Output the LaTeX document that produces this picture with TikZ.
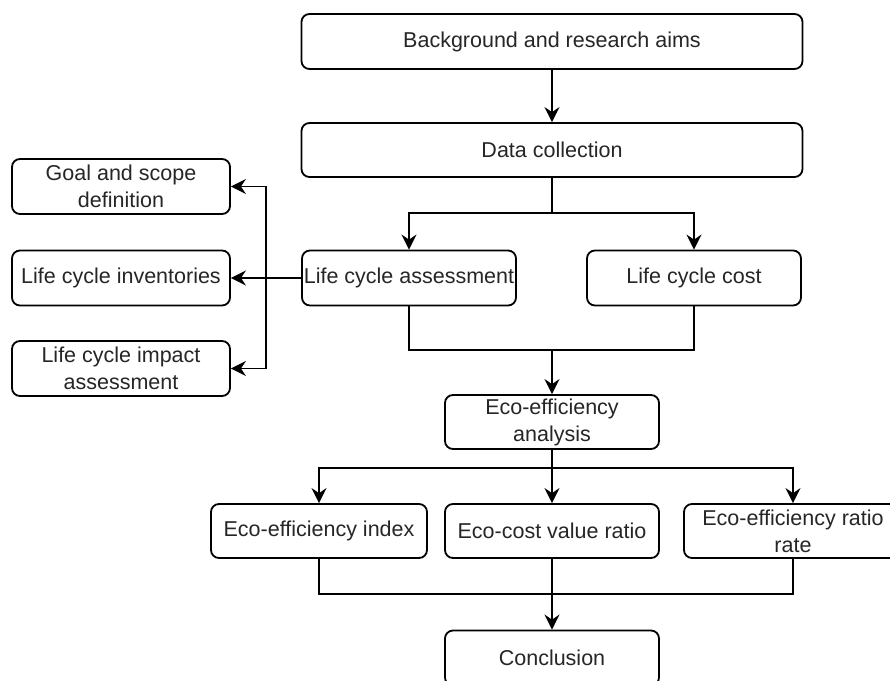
\documentclass[tikz,border=0pt]{standalone}
\usepackage{fontspec}
\setmainfont{Liberation Sans}
\usetikzlibrary{arrows.meta}
\begin{document}
\begin{tikzpicture}[x=1pt,y=-1pt,
  box/.style={draw=black, line width=1.8pt, rounded corners=8pt, fill=white,
    align=center, inner sep=1pt, text=black!85,
    font=\fontsize{21.5}{27}\selectfont},
  conn/.style={draw=black, line width=1.8pt},
  arr/.style={conn, -{Stealth[length=15pt,width=15pt,inset=5pt]}}
]
\useasboundingbox (0,0) rectangle (890,680);
\clip (0,0) rectangle (890,680);
\fill[white] (0,0) rectangle (890,680);

\node[box, minimum width=501pt, minimum height=55pt] (bg) at (552,41.5) {Background and research aims};
\node[box, minimum width=501pt, minimum height=54pt] (dc) at (552,150) {Data collection};
\node[box, minimum width=214pt, minimum height=55pt] (lca) at (409,278) {Life cycle assessment};
\node[box, minimum width=214pt, minimum height=55pt] (lcc) at (694,278) {Life cycle cost};
\node[box, minimum width=218pt, minimum height=55pt] (goal) at (121,186.5) {Goal and scope\\definition};
\node[box, minimum width=218pt, minimum height=55pt] (lci) at (121,278) {Life cycle inventories};
\node[box, minimum width=218pt, minimum height=55pt] (lcia) at (121,368.5) {Life cycle impact\\assessment};
\node[box, minimum width=214pt, minimum height=54pt] (eea) at (552,422) {Eco-efficiency\\analysis};
\node[box, minimum width=216pt, minimum height=54pt] (eei) at (319,531) {Eco-efficiency index};
\node[box, minimum width=214pt, minimum height=54pt] (ecv) at (552,531) {Eco-cost value ratio};
\node[box, minimum width=218pt, minimum height=54pt] (eer) at (793,531) {Eco-efficiency ratio\\rate};
\node[box, minimum width=214pt, minimum height=55pt] (con) at (552,658) {Conclusion};

\coordinate (s1) at (552,213);
\coordinate (m1) at (552,350);
\coordinate (bus) at (266,278);
\coordinate (s2) at (552,468);
\coordinate (m2) at (552,594);

\draw[arr] (bg) -- (dc);
\draw[conn] (dc.south) -- (s1);
\draw[arr] (s1) -| (lca.north);
\draw[arr] (s1) -| (lcc.north);
\draw[conn] (lca.south) -- (lca.south |- m1) -| (lcc.south);
\draw[arr] (m1) -- (eea.north);

\draw[arr] (lca.west) -- (lci.east);
\draw[arr] (bus) |- (goal.east);
\draw[arr] (bus) |- (lcia.east);

\draw[arr] (eea.south) -- (ecv.north);
\draw[arr] (s2) -| (eei.north);
\draw[arr] (s2) -| (eer.north);
\draw[conn] (eei.south) -- (eei.south |- m2) -| (eer.south);
\draw[arr] (ecv.south) -- (con.north);
\end{tikzpicture}
\end{document}
